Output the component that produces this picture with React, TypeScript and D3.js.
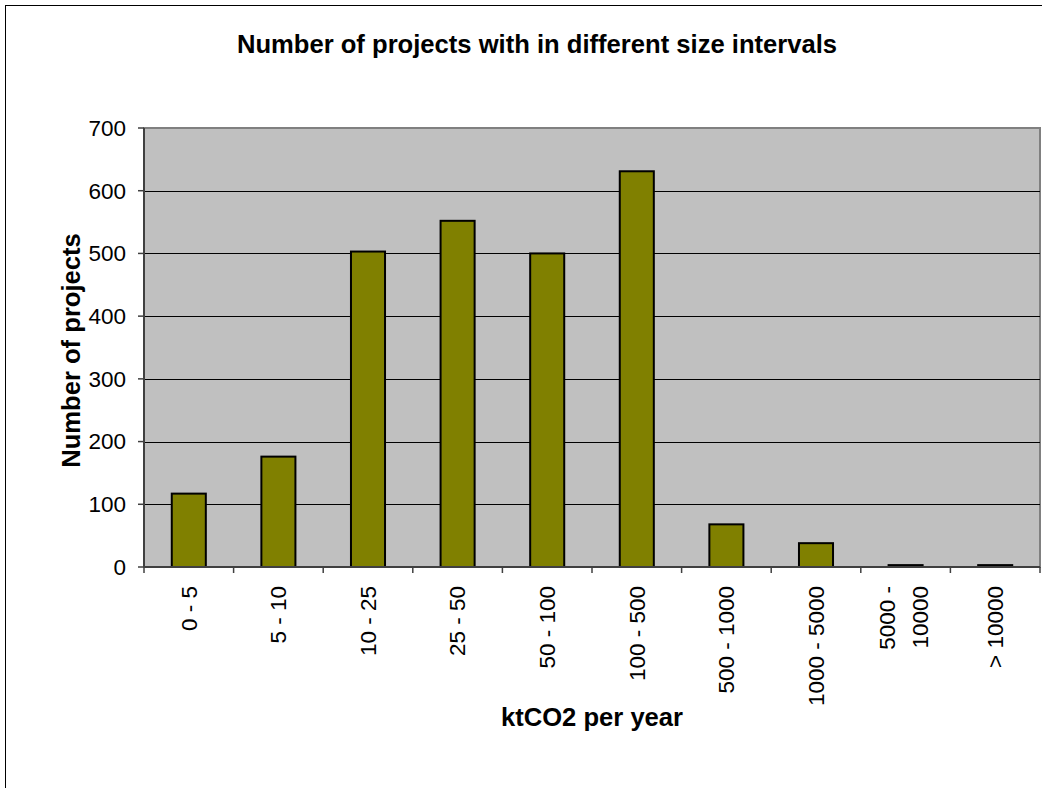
import React from "react";
import * as d3 from "d3";

// Size intervals (ktCO2 per year) and number of projects in each
const categories: string[] = [
  "0 - 5",
  "5 - 10",
  "10 - 25",
  "25 - 50",
  "50 - 100",
  "100 - 500",
  "500 - 1000",
  "1000 - 5000",
  "5000 - 10000",
  "> 10000",
];
const projectCounts: number[] = [117, 176, 503, 552, 500, 631, 68, 38, 3, 3];
const yTicks: number[] = [0, 100, 200, 300, 400, 500, 600, 700];

const chartTitle = "Number of projects with in different size intervals";
const xTitle = "ktCO2 per year";
const yTitle = "Number of projects";

const W = 1042;
const H = 788;
const plot = { left: 144, right: 1040, top: 128, bottom: 567 };
const FONT = "'Liberation Sans', Arial, Helvetica, sans-serif";

// Long category names break onto two lines, the way the category axis wraps them
function wrapLabel(label: string): string[] {
  if (label.length <= 11) return [label];
  const i = label.indexOf(" - ");
  if (i < 0) return [label];
  return [label.slice(0, i + 2), label.slice(i + 3)];
}

export default function App() {
  const x = d3
    .scaleBand<string>()
    .domain(categories)
    .range([plot.left, plot.right])
    .paddingInner(0.62)
    .paddingOuter(0.31);

  const y = d3.scaleLinear().domain([0, 700]).range([plot.bottom, plot.top]);

  const step = x.step();
  const tickXs = d3.range(categories.length + 1).map((i) => plot.left + i * step);

  return (
    <svg
      width={W}
      height={H}
      style={{ position: "absolute", left: 0, top: 0, background: "#fff" }}
      fontFamily={FONT}
    >
      {/* chart frame */}
      <rect x={5.5} y={5.5} width={1064} height={800} fill="#fff" stroke="#000" strokeWidth={1} />

      {/* title */}
      <text x={537} y={53} textAnchor="middle" fontSize={25.6} fontWeight="bold" fill="#000">
        {chartTitle}
      </text>

      {/* plot area */}
      <rect
        x={plot.left}
        y={plot.top}
        width={plot.right - plot.left}
        height={plot.bottom - plot.top}
        fill="#c0c0c0"
        stroke="#808080"
        strokeWidth={2}
      />

      {/* horizontal gridlines */}
      {yTicks
        .filter((t) => t > 0 && t < 700)
        .map((t) => (
          <line
            key={`g${t}`}
            x1={plot.left}
            x2={plot.right}
            y1={Math.round(y(t)) + 0.5}
            y2={Math.round(y(t)) + 0.5}
            stroke="#000"
            strokeWidth={1}
          />
        ))}

      {/* bars */}
      {categories.map((c, i) => (
        <rect
          key={c}
          x={x(c)}
          y={y(projectCounts[i])}
          width={x.bandwidth()}
          height={y(0) - y(projectCounts[i])}
          fill="#808000"
          stroke="#000"
          strokeWidth={2}
        />
      ))}

      {/* y axis */}
      <line x1={plot.left} x2={plot.left} y1={plot.top} y2={plot.bottom} stroke="#404040" strokeWidth={2} />
      {yTicks.map((t) => (
        <g key={`y${t}`}>
          <line x1={plot.left - 6} x2={plot.left} y1={y(t)} y2={y(t)} stroke="#404040" strokeWidth={1.5} />
          <text x={126} y={y(t)} dy="0.35em" textAnchor="end" fontSize={22.5} fill="#000">
            {t}
          </text>
        </g>
      ))}

      {/* x axis */}
      <line x1={plot.left} x2={plot.right} y1={plot.bottom} y2={plot.bottom} stroke="#404040" strokeWidth={2} />
      {tickXs.map((tx, i) => (
        <line key={`xt${i}`} x1={tx} x2={tx} y1={plot.bottom} y2={plot.bottom + 6} stroke="#404040" strokeWidth={1.5} />
      ))}
      {categories.map((c) => {
        const cx = (x(c) ?? 0) + x.bandwidth() / 2;
        const lines = wrapLabel(c);
        return (
          <g key={`xl${c}`}>
            {lines.map((ln, j) => {
              const off = (j - (lines.length - 1) / 2) * 33 - (lines.length > 1 ? 2 : 0);
              return (
                <text
                  key={j}
                  transform={`translate(${cx + off},586) rotate(-90)`}
                  dy="0.35em"
                  textAnchor="end"
                  fontSize={22.5}
                  fill="#000"
                >
                  {ln}
                </text>
              );
            })}
          </g>
        );
      })}

      {/* axis titles */}
      <text x={(plot.left + plot.right) / 2} y={726} textAnchor="middle" fontSize={25.6} fontWeight="bold" fill="#000">
        {xTitle}
      </text>
      <text
        transform={`translate(80,${(plot.top + plot.bottom) / 2 + 3}) rotate(-90)`}
        textAnchor="middle"
        fontSize={25.6}
        fontWeight="bold"
        fill="#000"
      >
        {yTitle}
      </text>
    </svg>
  );
}
